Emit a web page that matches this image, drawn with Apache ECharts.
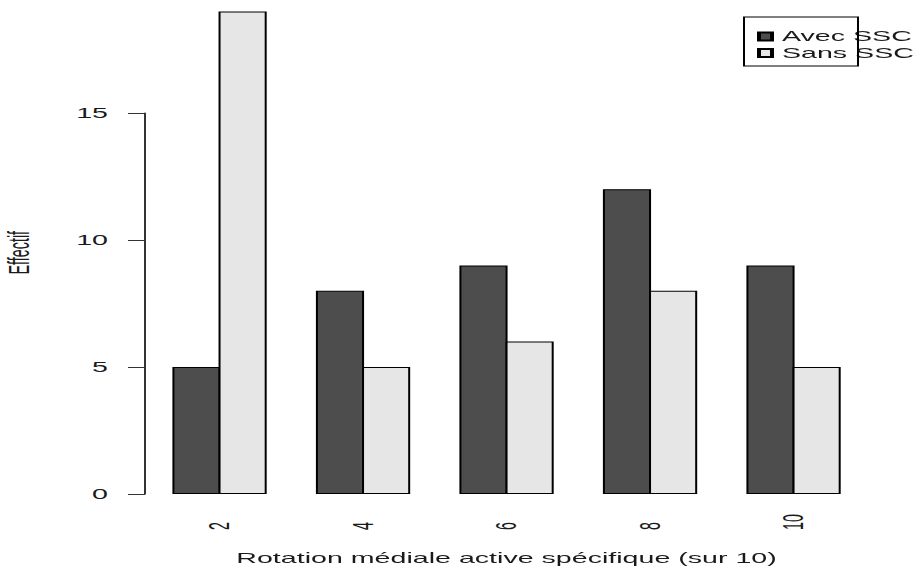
<!DOCTYPE html>
<html>
<head>
<meta charset="utf-8">
<script src="https://cdn.jsdelivr.net/npm/echarts@6/dist/echarts.min.js"></script>
<style>
  html, body { margin: 0; padding: 0; background: #fff; }
  #frame { width: 919px; height: 576px; overflow: hidden; position: relative; }
  /* the plot is laid out on a narrower canvas and widened horizontally */
  #chart { width: 459.5px; height: 576px; transform: scaleX(2); transform-origin: 0 0; }
</style>
</head>
<body>
<div id="frame"><div id="chart"></div></div>
<script>
// Rotation médiale active spécifique (score sur 10) : effectifs par groupe
const categories = ['2', '4', '6', '8', '10'];
const avecSSC = [5, 8, 9, 12, 9];
const sansSSC = [19, 5, 6, 8, 5];
const yTicks = [0, 5, 10, 15];

const FONT = '"Liberation Sans", Arial, Helvetica, sans-serif';
const TXT = '#1a1a1a';
const FS = 14.3;

const chart = echarts.init(document.getElementById('chart'), null, {
  renderer: 'svg', width: 459.5, height: 576
});

// paired bars share one border line: they overlap by the border width
const BAR_GAP = '-4.2%';
const CAT_GAP = '34.3%';

chart.setOption({
  animation: false,
  backgroundColor: '#ffffff',
  textStyle: { fontFamily: FONT },
  grid: [
    // bars
    { left: 73.9, width: 358.75, top: 11.4, bottom: 82, outerBoundsMode: 'none', containLabel: false },
    // visible value axis, drawn over its tick range only
    { left: 72.5, width: 10, top: 113, bottom: 82, outerBoundsMode: 'none', containLabel: false }
  ],
  legend: {
    orient: 'vertical',
    left: 378.5,
    top: 29.5,
    itemWidth: 6.5,
    itemHeight: 8,
    itemGap: 2.5,
    textStyle: { fontFamily: FONT, fontSize: FS, color: TXT },
    icon: 'rect',
    padding: 0,
    data: ['Avec SSC', 'Sans SSC']
  },
  xAxis: [
    {
      type: 'category',
      gridIndex: 0,
      data: categories,
      axisLine: { show: false },
      axisTick: { show: false },
      axisLabel: {
        rotate: 90,
        align: 'left',
        margin: 36,
        fontSize: FS,
        color: TXT,
        fontFamily: FONT
      },
      name: 'Rotation médiale active spécifique (sur 10)',
      nameLocation: 'middle',
      nameGap: 57,
      nameTextStyle: { fontSize: FS, color: TXT, fontFamily: FONT }
    },
    { type: 'value', gridIndex: 1, show: false, min: 0, max: 1 }
  ],
  yAxis: [
    {
      type: 'value',
      gridIndex: 0,
      min: 0,
      max: 19,
      axisLine: { show: false },
      axisTick: { show: false },
      axisLabel: { show: false },
      splitLine: { show: false },
      name: 'Effectif',
      nameLocation: 'middle',
      nameRotate: 90,
      nameGap: 57,
      nameTextStyle: { fontSize: FS, color: TXT, fontFamily: FONT }
    },
    {
      type: 'value',
      gridIndex: 1,
      min: yTicks[0],
      max: yTicks[yTicks.length - 1],
      interval: yTicks[1] - yTicks[0],
      axisLine: { show: true, lineStyle: { color: '#333', width: 1 } },
      axisTick: { show: true, length: 8.5, lineStyle: { color: '#333', width: 1 } },
      axisLabel: { margin: 18.5, fontSize: FS, color: TXT, fontFamily: FONT },
      splitLine: { show: false }
    }
  ],
  series: [
    {
      name: 'Avec SSC',
      type: 'bar',
      xAxisIndex: 0,
      yAxisIndex: 0,
      data: avecSSC,
      barGap: BAR_GAP,
      barCategoryGap: CAT_GAP,
      itemStyle: { color: '#4d4d4d', borderColor: '#000', borderWidth: 1 }
    },
    {
      name: 'Sans SSC',
      type: 'bar',
      xAxisIndex: 0,
      yAxisIndex: 0,
      data: sansSSC,
      barGap: BAR_GAP,
      barCategoryGap: CAT_GAP,
      itemStyle: { color: '#e6e6e6', borderColor: '#000', borderWidth: 1 }
    }
  ],
  graphic: [
    {
      type: 'rect',
      shape: { x: 372, y: 17, width: 57, height: 49 },
      style: { fill: 'none', stroke: '#000', lineWidth: 1 },
      z: 10
    }
  ]
});
</script>
</body>
</html>
